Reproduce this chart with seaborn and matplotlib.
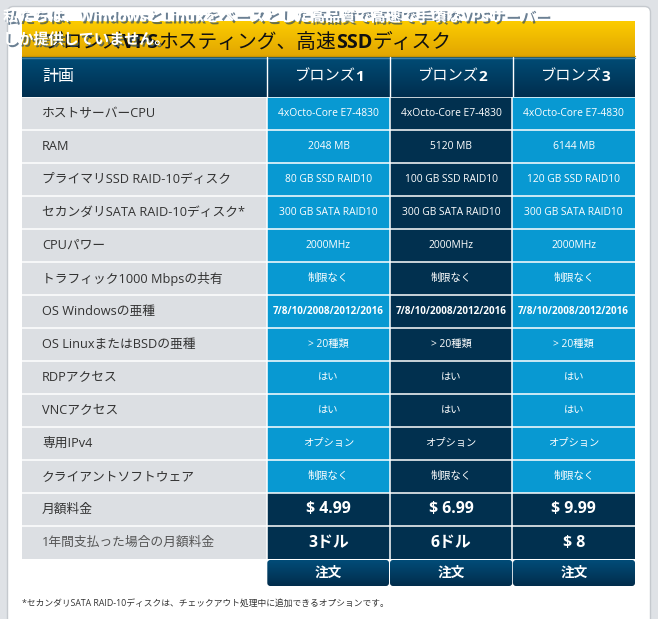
import numpy as np
import pandas as pd
import seaborn as sns
import matplotlib.pyplot as plt
import matplotlib.patheffects as pe
from matplotlib.colors import ListedColormap
from matplotlib.patches import FancyBboxPatch

# --- data ---
intro = ["私たちは、WindowsとLinuxをベースとした高品質で高速で手頃なVPSサーバー",
         "しか提供していません。"]
title_parts = [("ブロンズ", "normal"), ("VPS", "bold"), ("ホスティング、高速", "normal"),
               ("SSD", "bold"), ("ディスク", "normal")]
plans = ["ブロンズ1", "ブロンズ2", "ブロンズ3"]
features = ["ホストサーバーCPU", "RAM", "プライマリSSD RAID-10ディスク",
            "セカンダリSATA RAID-10ディスク*", "CPUパワー", "トラフィック1000 Mbpsの共有",
            "OS Windowsの亜種", "OS LinuxまたはBSDの亜種", "RDPアクセス", "VNCアクセス",
            "専用IPv4", "クライアントソフトウェア"]
bronze1 = ["4xOcto-Core E7-4830", "2048 MB", "80 GB SSD RAID10", "300 GB SATA RAID10",
           "2000MHz", "制限なく", "7/8/10/2008/2012/2016", "> 20種類", "はい", "はい",
           "オプション", "制限なく"]
bronze2 = ["4xOcto-Core E7-4830", "5120 MB", "100 GB SSD RAID10", "300 GB SATA RAID10",
           "2000MHz", "制限なく", "7/8/10/2008/2012/2016", "> 20種類", "はい", "はい",
           "オプション", "制限なく"]
bronze3 = ["4xOcto-Core E7-4830", "6144 MB", "120 GB SSD RAID10", "300 GB SATA RAID10",
           "2000MHz", "制限なく", "7/8/10/2008/2012/2016", "> 20種類", "はい", "はい",
           "オプション", "制限なく"]
price_labels = ["月額料金", "1年間支払った場合の月額料金"]
monthly = ["$ 4.99", "$ 6.99", "$ 9.99"]
yearly = ["3ドル", "6ドル", "$ 8"]
button = "注文"
footnote = "*セカンダリSATA RAID-10ディスクは、チェックアウト処理中に追加できるオプションです。"

sns.set_theme(style="white")
plt.rcParams['font.family'] = ['Open Sans', 'Noto Sans CJK JP', 'DejaVu Sans']
plt.rcParams['text.parse_math'] = False

GRAY, BLUE, NAVY = "#dcdfe3", "#0899d2", "#01304f"
W, H = 658, 619

fig = plt.figure(figsize=(W / 100, H / 100), dpi=100, facecolor="#dfe2e6")
bg = fig.add_axes([0, 0, 1, 1])
bg.axis("off")


def vgrad(top, bottom, n=64):
    t = np.linspace(0, 1, n)[:, None, None]
    return (np.array(top)[None, None, :] * (1 - t) + np.array(bottom)[None, None, :] * t) / 255


# white panel
bg.add_patch(FancyBboxPatch((7.5, 6.5), 643, 640, boxstyle="round,pad=0,rounding_size=6",
                            fc="white", ec="#c5c9ce", lw=1, zorder=0))

# yellow banner
bg.imshow(vgrad((252, 204, 0), (226, 166, 0)), extent=(22, 635, 56, 21), aspect="auto",
          zorder=1)
bg.plot([22, 635], [55.5, 55.5], color="#c99400", lw=1, zorder=2)
prev = bg.text(43, 48, title_parts[0][0], fontsize=14.2, color="#111111",
               fontweight=title_parts[0][1], va="baseline", zorder=3)
for s, w in title_parts[1:]:
    prev = bg.annotate(s, xy=(1, 0), xycoords=prev, va="bottom", ha="left",
                       fontsize=14.2, color="#111111", fontweight=w, zorder=3)

# header
bg.imshow(vgrad((0, 76, 118), (0, 46, 78)), extent=(22, 635, 97, 57), aspect="auto",
          zorder=1)
bg.plot([22, 635], [57.5, 57.5], color="#3d7fa8", lw=1, zorder=2)
for x in [266.9, 389.5, 512.6]:
    bg.plot([x, x], [57, 97], color="white", lw=1, zorder=2)
bg.text(42, 77, "計画", fontsize=11.5, color="white", va="center", zorder=3)
for x, p in zip([328, 451, 574], plans):
    bg.text(x + 27, 77, p[:-1], fontsize=11, color="white", ha="right", va="center",
            zorder=3)
    bg.text(x + 27, 77, p[-1], fontsize=11, color="white", fontweight="bold",
            ha="left", va="center", zorder=3)

# order buttons
for x0, x1 in [(267.3, 389), (390, 512.2), (513, 635)]:
    btn = FancyBboxPatch((x0, 560), x1 - x0, 26, boxstyle="round,pad=0,rounding_size=3",
                         fc="none", ec="none", zorder=1)
    bg.add_patch(btn)
    im = bg.imshow(vgrad((2, 76, 120), (1, 45, 76)), extent=(x0, x1, 586, 560),
                   aspect="auto", zorder=1)
    im.set_clip_path(btn)
    bg.text((x0 + x1) / 2, 573, button, fontsize=9.8, fontweight="bold", color="white",
            ha="center", va="center", zorder=3)

# intro text overlay with shadow
shadow = [pe.SimplePatchShadow(offset=(1.5, -1.5), shadow_rgbFace="#2c4a66", alpha=0.7),
          pe.Normal()]
bg.text(3, 17, intro[0], fontsize=10.9, fontweight="bold", color="white", va="center",
        path_effects=shadow, zorder=4)
bg.text(3, 40, intro[1], fontsize=10.9, fontweight="bold", color="white", va="center",
        path_effects=shadow, zorder=4)

bg.text(22, 604, footnote, fontsize=6.3, color="#333333", va="center", zorder=3)

bg.set_xlim(0, W)
bg.set_ylim(H, 0)

# --- table body as heatmap ---
rows = features + price_labels
codes = pd.DataFrame(0, index=rows, columns=["label_a", "label_b"] + plans)
codes.loc[features, plans[0]] = 1
codes.loc[features, plans[2]] = 1
codes.loc[features, plans[1]] = 2
codes.loc[price_labels, plans] = 2

hm = fig.add_axes([22 / W, 1 - 559 / H, 613 / W, 462 / H])
sns.heatmap(codes, cmap=ListedColormap([GRAY, BLUE, NAVY]), vmin=-0.5, vmax=2.5,
            cbar=False, xticklabels=False, yticklabels=False, linewidths=0, ax=hm)
hm.hlines(np.arange(0, len(rows)), 0, 5, colors="white", lw=1.1)
hm.vlines([2, 3, 4], 0, len(rows), colors="white", lw=1.1)

lab_x = 20 / 122.6
for i, f in enumerate(rows):
    hm.text(lab_x, i + 0.5, f, fontsize=9.2, color="#333333" if i < 13 else "#555555",
            ha="left", va="center")

for j, col in enumerate([bronze1, bronze2, bronze3]):
    for i, v in enumerate(col):
        bold = v.startswith("7/8")
        hm.text(2.5 + j, i + 0.5, v, fontsize=7.1 if bold else 7.4, color="white",
                fontweight="bold" if bold else "normal", ha="center", va="center")
    hm.text(2.5 + j, 12.5, monthly[j], fontsize=11.4, fontweight="bold", color="white",
            ha="center", va="center")
    hm.text(2.5 + j, 13.5, yearly[j], fontsize=11.4, fontweight="bold", color="white",
            ha="center", va="center")

fig.savefig("out.png", dpi=100, facecolor=fig.get_facecolor())
